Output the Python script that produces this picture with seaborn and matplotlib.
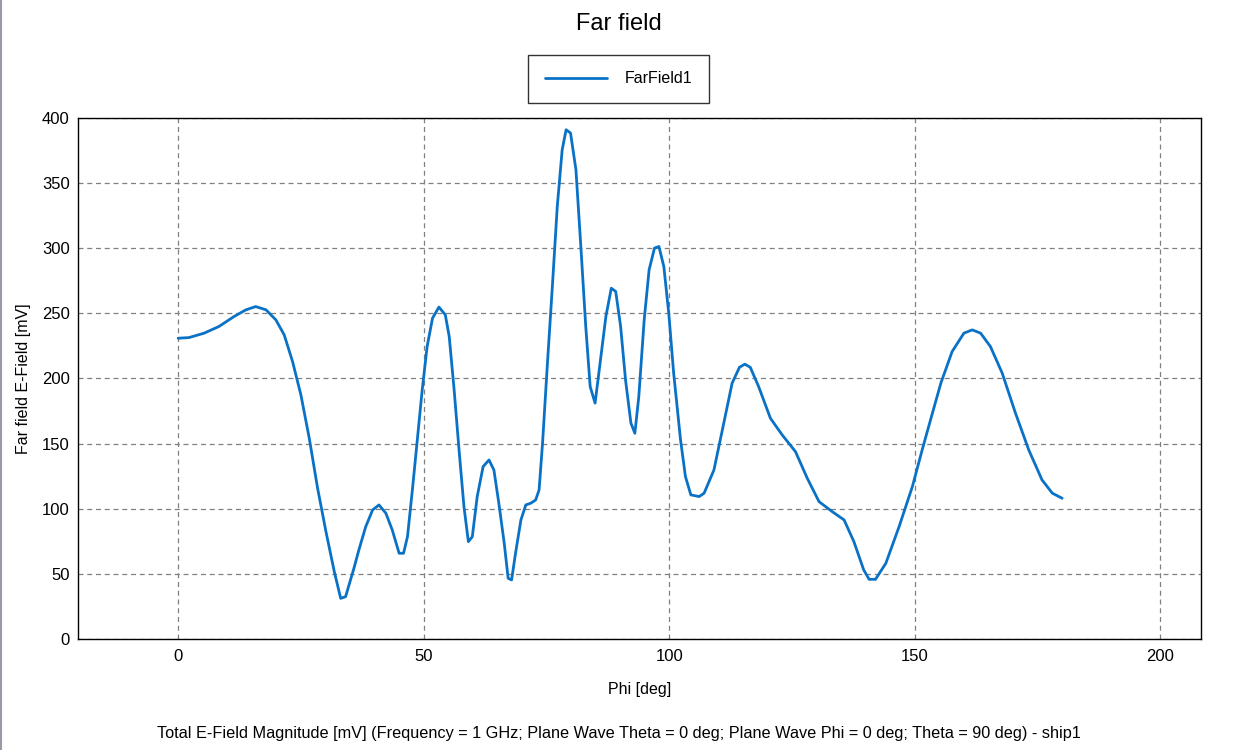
"""Far field E-field cut, redrawn with seaborn."""

import matplotlib
matplotlib.use("Agg")
import matplotlib.pyplot as plt
import pandas as pd
import seaborn as sns
from matplotlib.lines import Line2D

# values
phi_deg = [
    0.0, 2.2, 5.3, 8.3, 11.4, 13.8, 15.8, 17.9, 19.9, 21.6, 23.3, 25.0,
    26.7, 28.4, 30.1, 31.8, 33.1, 34.1, 35.8, 36.8, 38.2, 39.6, 40.9, 42.3,
    43.6, 45.0, 45.9, 46.7, 47.7, 48.7, 49.7, 50.7, 51.8, 53.1, 54.4, 55.2,
    56.2, 57.2, 58.2, 59.1, 59.9, 60.9, 62.1, 63.3, 64.3, 65.3, 66.4, 67.2,
    67.9, 68.7, 69.8, 70.8, 71.8, 72.8, 73.5, 74.2, 75.2, 76.2, 77.2, 78.2,
    79.0, 79.9, 81.0, 82.0, 83.0, 83.9, 84.9, 86.0, 87.1, 88.2, 89.1, 90.1,
    91.1, 92.2, 93.0, 93.8, 94.9, 95.9, 97.0, 97.9, 98.9, 99.9, 100.9, 102.3,
    103.3, 104.4, 106.1, 107.1, 109.1, 111.1, 112.8, 114.3, 115.4, 116.5,
    118.2, 120.6, 123.0, 125.7, 128.1, 130.5, 133.2, 135.6, 137.6, 139.6,
    140.7, 142.0, 144.1, 146.8, 149.5, 151.5, 153.2, 155.3, 157.6, 160.0,
    161.7, 163.4, 165.4, 167.8, 170.5, 173.2, 175.9, 178.0, 180.0,
]
efield_mv = [
    230.8, 231.3, 234.7, 239.8, 247.5, 252.6, 255.1, 252.6, 244.9, 233.4,
    212.9, 187.3, 154.1, 115.7, 82.4, 51.7, 31.2, 32.5, 54.3, 68.3, 86.2,
    99.0, 102.9, 96.5, 83.7, 65.8, 65.8, 78.5, 114.4, 152.8, 191.2, 224.4,
    246.2, 254.7, 248.8, 232.1, 191.2, 145.1, 101.6, 74.7, 78.5, 109.3, 132.3,
    137.4, 129.7, 104.2, 73.5, 46.6, 45.3, 65.8, 91.4, 102.9, 104.2, 106.7,
    114.4, 150.2, 211.7, 270.5, 331.9, 375.4, 390.8, 388.3, 360.1, 301.2,
    239.8, 193.7, 181.0, 214.2, 247.5, 269.2, 266.7, 239.8, 198.8, 165.6,
    157.9, 186.0, 244.9, 283.3, 300.0, 301.2, 285.8, 250.1, 204.0, 152.8,
    124.6, 110.6, 109.3, 111.9, 129.7, 165.6, 196.3, 208.5, 210.9, 208.5,
    193.7, 169.4, 156.6, 143.8, 123.4, 105.4, 97.7, 91.4, 74.7, 53.0, 45.8,
    45.8, 58.1, 86.2, 116.9, 145.1, 168.1, 196.3, 220.6, 234.7, 237.2, 234.7,
    224.4, 204.0, 173.3, 145.1, 122.1, 111.9, 108.0,
]
x_ticks = [0, 50, 100, 150, 200]
y_ticks = [0, 50, 100, 150, 200, 250, 300, 350, 400]

series_label = "FarField1"
title = "Far field"
x_label = "Phi [deg]"
y_label = "Far field E-Field [mV]"
footer = ("Total E-Field Magnitude [mV] (Frequency = 1 GHz; Plane Wave Theta = 0 deg; "
          "Plane Wave Phi = 0 deg; Theta = 90 deg) - ship1")

line_color = "#0a72c6"

sns.set_style("white")
plt.rcParams["font.family"] = ["Liberation Sans", "DejaVu Sans"]
plt.rcParams["text.color"] = "black"

df = pd.DataFrame({"phi": phi_deg, "efield": efield_mv})

fig = plt.figure(figsize=(12.37, 7.5), dpi=100)
ax = fig.add_axes([0.063, 0.148, 0.908, 0.695])

sns.lineplot(data=df, x="phi", y="efield", sort=False, color=line_color,
             linewidth=2.0, label=series_label, ax=ax,
             solid_joinstyle="round", solid_capstyle="round")

ax.set_xlim(-20.4, 208.3)
ax.set_ylim(0, 400)
ax.set_xticks(x_ticks)
ax.set_yticks(y_ticks)
ax.grid(True, color="#808080", linestyle=(0, (4, 3)), linewidth=0.9)
for side in ax.spines.values():
    side.set_color("black")
    side.set_linewidth(1.0)
ax.tick_params(axis="x", length=0, labelsize=12, labelcolor="black", pad=7)
ax.tick_params(axis="y", direction="out", length=3, width=0.9,
               color="#808080", labelsize=12, labelcolor="black", pad=3)
ax.set_xlabel(x_label, fontsize=11.5, labelpad=13, color="black")
ax.set_ylabel(y_label, fontsize=11.5, labelpad=8, color="black")

ax.get_legend().remove()
leg = fig.legend(handles=[Line2D([], [], color=line_color, linewidth=2.0)],
                 labels=[series_label], loc="center",
                 bbox_to_anchor=(0.5, 0.8947), frameon=True, fancybox=False,
                 edgecolor="black", fontsize=11.5, handlelength=3.9,
                 handletextpad=1.06, borderpad=1.05, borderaxespad=0)
leg.get_frame().set_linewidth(1.0)

fig.text(0.5, 0.968, title, ha="center", va="center", fontsize=17)
fig.text(0.5, 0.022, footer, ha="center", va="center", fontsize=11.7)

# grey window border on the left edge
fig.add_artist(Line2D([0.0012, 0.0012], [0, 1], transform=fig.transFigure,
                      color="#9a9aa4", linewidth=1.5))

fig.savefig("out.png", dpi=100)
plt.close(fig)
